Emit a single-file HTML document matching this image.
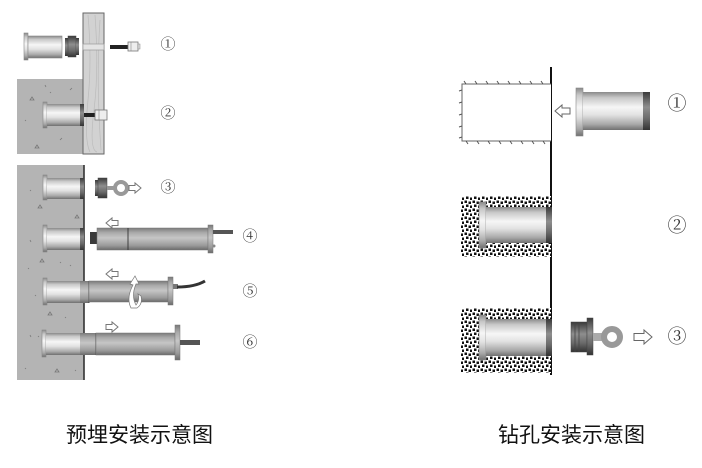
<!DOCTYPE html>
<html><head><meta charset="utf-8"><style>
html,body{margin:0;padding:0;background:#fff;}
svg{display:block;}
.lbl{font-family:"Liberation Serif","Noto Serif CJK SC",serif;fill:#333;}
.cap{font-family:"Liberation Sans","Noto Sans CJK SC",sans-serif;fill:#111;font-size:21px;}
</style></head><body>
<svg width="702" height="468" viewBox="0 0 702 468" xmlns="http://www.w3.org/2000/svg">
<defs>
<linearGradient id="cyl" x1="0" y1="0" x2="0" y2="1">
<stop offset="0" stop-color="#8a8a8a"/><stop offset="0.15" stop-color="#c8c8c8"/><stop offset="0.4" stop-color="#f6f6f6"/><stop offset="0.6" stop-color="#e2e2e2"/><stop offset="0.85" stop-color="#a8a8a8"/><stop offset="1" stop-color="#707070"/>
</linearGradient>
<linearGradient id="gry" x1="0" y1="0" x2="0" y2="1">
<stop offset="0" stop-color="#7a7a7a"/><stop offset="0.2" stop-color="#a8a8a8"/><stop offset="0.45" stop-color="#c6c6c6"/><stop offset="0.8" stop-color="#9a9a9a"/><stop offset="1" stop-color="#6a6a6a"/>
</linearGradient>
<linearGradient id="drk" x1="0" y1="0" x2="0" y2="1">
<stop offset="0" stop-color="#3a3a3a"/><stop offset="0.4" stop-color="#8e8e8e"/><stop offset="0.7" stop-color="#6a6a6a"/><stop offset="1" stop-color="#333"/>
</linearGradient>
<pattern id="spk" width="8" height="8" patternUnits="userSpaceOnUse">
<rect width="8" height="8" fill="#fff"/>
<rect x="0.5" y="0.5" width="2.5" height="2.5" fill="#111"/>
<rect x="4.5" y="1.5" width="2.5" height="2.5" fill="#111"/>
<rect x="2" y="4.5" width="2.5" height="2.5" fill="#111"/>
<rect x="6" y="5.5" width="2" height="2.5" fill="#111"/>
</pattern>
<g id="arrL"><path d="M0,0 L6,-5 L6,-2.5 L12,-2.5 L12,2.5 L6,2.5 L6,5 Z" fill="#fff" stroke="#777" stroke-width="1"/></g>
<g id="arrR"><path d="M0,0 L-6,-5 L-6,-2.5 L-12,-2.5 L-12,2.5 L-6,2.5 L-6,5 Z" fill="#fff" stroke="#777" stroke-width="1"/></g>
<g id="arrLb"><path d="M0,0 L7,-6 L7,-3 L15,-3 L15,3 L7,3 L7,6 Z" fill="#fff" stroke="#666" stroke-width="1"/></g>
<g id="arrRb"><path d="M0,0 L-8,-7 L-8,-3.5 L-18,-3.5 L-18,3.5 L-8,3.5 L-8,7 Z" fill="#fff" stroke="#666" stroke-width="1"/></g>
</defs>

<!-- LEFT DIAGRAM -->
<rect x="17" y="79" width="66" height="75" fill="#b4b4b4"/>
<rect x="17" y="165" width="67" height="215" fill="#b4b4b4"/>
<line x1="84" y1="165" x2="84" y2="380" stroke="#333" stroke-width="1.6"/>
<g fill="none" stroke="#777" stroke-width="0.8">
<path d="M30,100 l2,-3 l2,3z M45,85 l1,2 M70,90 l2,-2 M25,120 l1,1 M60,140 l2,-2 M35,148 l2,-3 l2,3z M75,112 l1,2 M50,92 l1,1"/>
<path d="M30,190 l1,1 M38,208 l2,-3 l2,3z M75,218 l2,-3 l2,3z M30,240 l1,2 M40,262 l2,-3 l2,3z M60,262 l1,1 M28,268 l1,1 M70,265 l1,1 M35,295 l1,1 M48,315 l2,-3 l2,3z M65,317 l1,1 M30,335 l1,2 M38,336 l1,1 M25,368 l1,1 M55,372 l2,-3 l2,3z M75,370 l1,1 M72,182 l1,1"/>
</g>
<rect x="83" y="13" width="21" height="141" fill="#d2d2d2" stroke="#666" stroke-width="1"/>
<g stroke="#bbb" stroke-width="0.7" fill="none">
<path d="M88,15 Q92,60 88,100 T90,152"/><path d="M95,15 Q99,70 94,110 T97,152"/><path d="M100,20 Q96,80 101,150"/>
</g>
<rect x="83" y="44" width="21" height="6" fill="#e4e4e4" stroke="#999" stroke-width="0.7"/>

<!-- item 1 -->
<rect x="24" y="33" width="4" height="27" fill="url(#cyl)" stroke="#888" stroke-width="0.6"/>
<rect x="28" y="36" width="34" height="22" fill="url(#cyl)" stroke="#888" stroke-width="0.6"/>
<rect x="65" y="38" width="3" height="18" fill="url(#drk)"/>
<rect x="68" y="36" width="8" height="21" fill="url(#drk)" stroke="#444" stroke-width="0.5"/>
<rect x="76" y="38" width="3" height="17" fill="url(#drk)"/>
<rect x="110" y="45" width="18" height="4" fill="#222"/>
<rect x="128" y="42" width="10" height="9" fill="#eee" stroke="#777" stroke-width="0.8"/>
<line x1="131" y1="42" x2="131" y2="51" stroke="#888" stroke-width="0.6"/>
<rect x="138" y="44" width="2" height="5" fill="#ddd" stroke="#888" stroke-width="0.5"/>
<text class="lbl" x="168" y="45" font-size="15" text-anchor="middle" dominant-baseline="central">①</text>

<!-- item 2 -->
<rect x="43" y="102" width="4" height="26" fill="url(#cyl)" stroke="#888" stroke-width="0.6"/>
<rect x="47" y="104" width="33" height="22" fill="url(#cyl)"/>
<rect x="80" y="104" width="4" height="22" fill="url(#drk)"/>
<rect x="84" y="113" width="11" height="4" fill="#222"/>
<rect x="95" y="110" width="12" height="10" fill="#eee" stroke="#777" stroke-width="0.8"/>
<line x1="99" y1="110" x2="99" y2="120" stroke="#888" stroke-width="0.6"/>
<text class="lbl" x="168" y="114" font-size="15" text-anchor="middle" dominant-baseline="central">②</text>

<!-- item 3 -->
<rect x="43" y="175" width="4" height="25" fill="url(#cyl)" stroke="#888" stroke-width="0.6"/>
<rect x="47" y="178" width="33" height="21" fill="url(#cyl)"/>
<rect x="80" y="178" width="4" height="21" fill="url(#drk)"/>
<rect x="95" y="180" width="3" height="16" fill="url(#drk)"/>
<rect x="98" y="178" width="9" height="20" fill="url(#drk)" stroke="#444" stroke-width="0.5"/>
<rect x="107" y="186" width="7" height="4" fill="#999"/>
<circle cx="121" cy="188" r="6" fill="none" stroke="#999" stroke-width="4"/>
<use href="#arrR" x="141" y="188"/>
<text class="lbl" x="168" y="188" font-size="15" text-anchor="middle" dominant-baseline="central">③</text>

<!-- item 4 -->
<rect x="43" y="225" width="4" height="27" fill="url(#cyl)" stroke="#888" stroke-width="0.6"/>
<rect x="47" y="228" width="33" height="22" fill="url(#cyl)"/>
<rect x="80" y="228" width="4" height="22" fill="url(#drk)"/>
<rect x="90" y="232" width="7" height="12" fill="#3a3a3a"/>
<rect x="97" y="228" width="111" height="22" fill="url(#gry)" stroke="#777" stroke-width="0.5"/>
<line x1="128" y1="228" x2="128" y2="250" stroke="#333" stroke-width="0.9"/>
<rect x="208" y="225" width="5" height="28" fill="url(#gry)" stroke="#777" stroke-width="0.5"/>
<rect x="213" y="230" width="20" height="4" fill="#555"/>
<circle cx="214" cy="246" r="1.5" fill="#888"/>
<use href="#arrL" x="106" y="223"/>
<text class="lbl" x="250" y="237" font-size="15" text-anchor="middle" dominant-baseline="central">④</text>

<!-- item 5 -->
<rect x="43" y="278" width="4" height="27" fill="url(#cyl)" stroke="#888" stroke-width="0.6"/>
<rect x="47" y="281" width="33" height="22" fill="url(#cyl)"/>
<rect x="80" y="281" width="9" height="22" fill="url(#gry)"/>
<line x1="89" y1="281" x2="89" y2="303" stroke="#333" stroke-width="0.9"/>
<rect x="89" y="281" width="79" height="21" fill="url(#gry)" stroke="#777" stroke-width="0.5"/>
<rect x="168" y="277" width="5" height="28" fill="url(#gry)" stroke="#777" stroke-width="0.5"/>
<rect x="173" y="284" width="5" height="5" fill="#777"/>
<path d="M177,287 Q195,287 205,281" fill="none" stroke="#333" stroke-width="3"/>
<path d="M131,308 Q126,298 133,285 L130,284 L135,276 L139,284 L136,284 Q131,296 136,305 Q140,300 138,294 L141,296 Q143,304 137,308 Z" fill="#fff" stroke="#777" stroke-width="0.7"/>
<use href="#arrL" x="106" y="274"/>
<text class="lbl" x="250" y="292" font-size="15" text-anchor="middle" dominant-baseline="central">⑤</text>

<!-- item 6 -->
<rect x="42" y="330" width="4" height="27" fill="url(#cyl)" stroke="#888" stroke-width="0.6"/>
<rect x="46" y="333" width="34" height="22" fill="url(#cyl)"/>
<rect x="80" y="333" width="16" height="22" fill="url(#gry)"/>
<line x1="96" y1="333" x2="96" y2="355" stroke="#333" stroke-width="0.9"/>
<rect x="96" y="333" width="79" height="22" fill="url(#gry)" stroke="#777" stroke-width="0.5"/>
<rect x="175" y="325" width="5" height="35" fill="url(#gry)" stroke="#777" stroke-width="0.5"/>
<rect x="180" y="340" width="20" height="5" fill="#555"/>
<use href="#arrR" x="118" y="327"/>
<text class="lbl" x="250" y="343" font-size="15" text-anchor="middle" dominant-baseline="central">⑥</text>

<!-- RIGHT DIAGRAM -->
<line x1="551" y1="67" x2="551" y2="375" stroke="#111" stroke-width="2"/>
<path d="M551,84 L462,84 L462,141 L551,141" fill="#fff" stroke="#666" stroke-width="1"/>
<g stroke="#555" stroke-width="1" fill="none">
<path d="M466,84 l-2,-3 M477,84 l-2,-3 M488,84 l-2,-3 M499,84 l-2,-3 M510,84 l-2,-3 M521,84 l-2,-3 M532,84 l-2,-3 M543,84 l-2,-3"/>
<path d="M466,141 l2,3 M477,141 l2,3 M488,141 l2,3 M499,141 l2,3 M510,141 l2,3 M521,141 l2,3 M532,141 l2,3 M543,141 l2,3"/>
<path d="M462,90 l-3,1 M462,102 l-3,1 M462,114 l-3,1 M462,126 l-3,1 M462,137 l-3,1"/>
</g>
<use href="#arrLb" x="555" y="111"/>
<rect x="576" y="88" width="7" height="48" fill="url(#cyl)" stroke="#888" stroke-width="0.6"/>
<rect x="583" y="92" width="60" height="38" fill="url(#cyl)"/>
<rect x="643" y="92" width="7" height="38" fill="url(#drk)"/>
<text class="lbl" x="677" y="104" font-size="19" text-anchor="middle" dominant-baseline="central">①</text>

<rect x="461" y="196" width="90" height="61" fill="url(#spk)"/>
<rect x="479" y="202" width="7" height="46" fill="url(#cyl)" stroke="#888" stroke-width="0.6"/>
<rect x="486" y="207" width="61" height="36" fill="url(#cyl)"/>
<rect x="546" y="207" width="6" height="36" fill="url(#drk)"/>
<text class="lbl" x="677" y="226" font-size="19" text-anchor="middle" dominant-baseline="central">②</text>

<rect x="461" y="308" width="90" height="65" fill="url(#spk)"/>
<rect x="479" y="315" width="7" height="45" fill="url(#cyl)" stroke="#888" stroke-width="0.6"/>
<rect x="486" y="319" width="61" height="37" fill="url(#cyl)"/>
<rect x="546" y="319" width="6" height="37" fill="url(#drk)"/>
<rect x="571" y="322" width="16" height="30" fill="url(#drk)" stroke="#444" stroke-width="0.5"/>
<line x1="575" y1="322" x2="575" y2="352" stroke="#444" stroke-width="0.8"/>
<line x1="579" y1="322" x2="579" y2="352" stroke="#444" stroke-width="0.8"/>
<rect x="587" y="318" width="6" height="37" fill="url(#drk)" stroke="#444" stroke-width="0.5"/>
<rect x="593" y="333" width="10" height="8" fill="#aaa"/>
<circle cx="612" cy="337" r="8" fill="none" stroke="#999" stroke-width="6"/>
<use href="#arrRb" x="652" y="337"/>
<text class="lbl" x="677" y="337" font-size="19" text-anchor="middle" dominant-baseline="central">③</text>

<text class="cap" x="66" y="442" textLength="147" lengthAdjust="spacingAndGlyphs">预埋安装示意图</text>
<text class="cap" x="498" y="442" textLength="147" lengthAdjust="spacingAndGlyphs">钻孔安装示意图</text>
</svg>
</body></html>
